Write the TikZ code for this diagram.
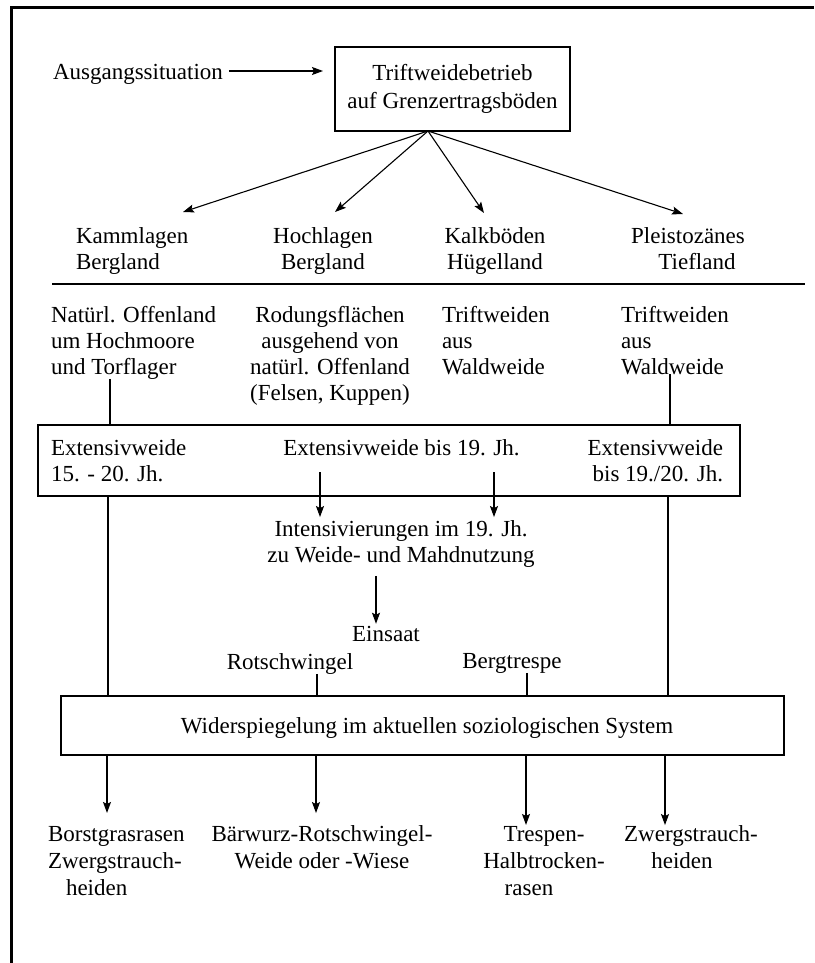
\documentclass[tikz,border=0pt]{standalone}
\usepackage{fontspec}
\setmainfont{Liberation Serif}
\usetikzlibrary{arrows.meta,calc}

\begin{document}
\begin{tikzpicture}[x=1pt,y=-1pt,
  every node/.style={inner sep=0pt, outer sep=0pt, font=\fontsize{23}{26}\selectfont},
  boxed/.style={draw, line width=1.4pt},
  conn/.style={line width=1.1pt},
  arr/.style={conn, -{Stealth[length=11pt,width=8pt,inset=2pt]}},
]
\useasboundingbox (0,0) rectangle (814,963);

% page frame (top and left edge)
\draw[line width=3pt] (814,7.5) -- (11,7.5) -- (11,963);

% starting situation
\node[anchor=base west] (aus) at (53,80) {Ausgangssituation};
\node[boxed, minimum width=235pt, minimum height=84pt, align=center,
      font=\fontsize{23}{28}\selectfont] (top) at (452.5,89)
      {Triftweidebetrieb\\auf Grenzertragsböden};
\draw[arr] ($(aus.base east)+(6,-9)$) -- ($(aus.base east -| top.west)+(-12,-9)$);

% landscape types (multi-line nodes: base = baseline of the last line)
\node[anchor=base west, align=left] (kamm) at (76,269) {Kammlagen\\Bergland};
\node[anchor=base, align=center] (hoch) at (323,269) {Hochlagen\\Bergland};
\node[anchor=base, align=center] (kalk) at (495,269) {Kalkböden\\Hügelland};
\node[anchor=base, align=center] (pleis) at (688,269) {Pleistozänes\\\hspace*{18pt}Tiefland};

\coordinate (fan) at ($(top.south)+(-24.5,0)$);
\coordinate (tK) at (183,212);
\coordinate (tH) at (335,212);
\coordinate (tL) at (484,213);
\coordinate (tP) at (683,214);
\draw[arr] (fan) -- (tK);
\draw[arr] (fan) -- (tH);
\draw[arr] (fan) -- (tL);
\draw[arr] (fan) -- (tP);

% separator
\coordinate (sepL) at (52,284);
\coordinate (sepR) at (805,284);
\draw[line width=2pt] (sepL) -- (sepR);

% origin of the open land
\node[anchor=base west, align=left] (natur) at (51,374) {Natürl. Offenland\\um Hochmoore\\und Torflager};
\node[anchor=base, align=center] (rod) at (330,400) {Rodungsflächen\\ausgehend von\\natürl. Offenland\\(Felsen, Kuppen)};
\node[anchor=base west, align=left] (trA) at (442,374) {Triftweiden\\aus\\Waldweide};
\node[anchor=base west, align=left] (trB) at (621,374) {Triftweiden\\aus\\Waldweide};

% extensive grazing
\node[boxed, minimum width=702pt, minimum height=71pt] (ext) at (389,460.5) {};
\node[anchor=base west, align=left] (extA) at (51,481) {Extensivweide\\15. - 20. Jh.};
\node[anchor=base] (extB) at (401.5,455) {Extensivweide bis 19. Jh.};
\node[anchor=base east, align=right] (extC) at (723,481) {Extensivweide\\bis 19./20. Jh.};

\coordinate (cA) at (110,0);
\coordinate (cD) at (670,0);
\draw[conn] (natur.south -| cA) -- (ext.north -| cA);
\draw[conn] (trB.south -| cD) -- (ext.north -| cD);

% intensification
\node[anchor=base, align=center] (intn) at (401,562) {Intensivierungen im 19. Jh.\\zu Weide- und Mahdnutzung};
\coordinate (cB1) at (320,0);
\coordinate (cC1) at (494,0);
\draw[arr] ($(extB.base -| cB1)+(0,17)$) -- ($(intn.north -| cB1)+(0,-3)$);
\draw[arr] ($(extB.base -| cC1)+(0,17)$) -- ($(intn.north -| cC1)+(0,-3)$);

\node[anchor=base] (eins) at (386,641) {Einsaat};
\node[anchor=base] (rot) at (290,669) {Rotschwingel};
\node[anchor=base] (berg) at (512,668) {Bergtrespe};
\coordinate (cE) at (376,0);
\draw[arr] ($(intn.south -| cE)+(0,9)$) -- ($(eins.north -| cE)+(0,-2)$);

% present-day classification
\node[boxed, minimum width=723pt, minimum height=59pt] (wid) at (422.5,725.5) {};
\node[anchor=base] (widtxt) at (427,733) {Widerspiegelung im aktuellen soziologischen System};

\coordinate (cA2) at (108,0);
\coordinate (cB) at (317,0);
\coordinate (cC) at (527,0);
\coordinate (cD2) at (668,0);
\draw[conn] (ext.south -| cA2) -- (wid.north -| cA2);
\draw[conn] (ext.south -| cD2) -- (wid.north -| cD2);
\draw[conn] (rot.south -| cB) -- (wid.north -| cB);
\draw[conn] (berg.south -| cC) -- (wid.north -| cC);

% resulting communities
\begin{scope}[every node/.append style={font=\fontsize{23}{27}\selectfont}]
\node[anchor=base west, align=left] (borst) at (48,895) {Borstgrasrasen\\Zwergstrauch-\\\hspace*{18pt}heiden};
\node[anchor=base, align=center] (baer) at (322,868) {Bärwurz-Rotschwingel-\\Weide oder -Wiese};
\node[anchor=base, align=center] (tresp) at (544,895) {Trespen-\\Halbtrocken-\\rasen\hspace*{30pt}};
\node[anchor=base, align=center] (zwerg) at (691,868) {Zwergstrauch-\\heiden\hspace*{18pt}};
\end{scope}

\coordinate (cA3) at (107,0);
\coordinate (cB3) at (316,0);
\coordinate (cC3) at (526,0);
\coordinate (cD3) at (665,0);
\draw[arr] (wid.south -| cA3) -- ($(borst.north -| cA3)+(0,-13)$);
\draw[arr] (wid.south -| cB3) -- ($(baer.north -| cB3)+(0,-12)$);
\draw[arr] (wid.south -| cC3) -- ($(tresp.north -| cC3)+(0,-1)$);
\draw[arr] (wid.south -| cD3) -- ($(zwerg.north -| cD3)+(0,0)$);
\end{tikzpicture}
\end{document}
